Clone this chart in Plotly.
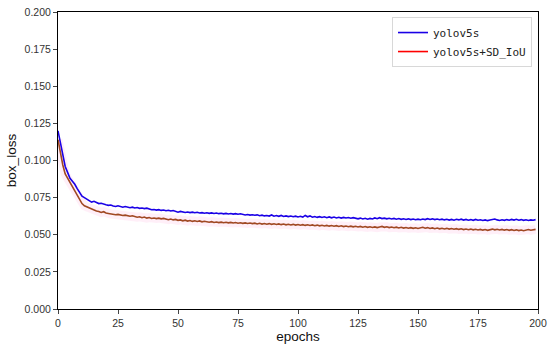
import plotly.graph_objects as go

epochs = list(range(200))

yolov5s = [
    0.120, 0.112, 0.102, 0.096, 0.092, 0.088, 0.086, 0.084, 0.081, 0.078,
    0.0760, 0.0750, 0.0740, 0.0730, 0.0720, 0.0725, 0.0715, 0.0710, 0.0712, 0.0705,
    0.0702, 0.0698, 0.0700, 0.0693, 0.0690, 0.0695, 0.0688, 0.0685, 0.0690, 0.0684,
    0.0682, 0.0686, 0.0680, 0.0683, 0.0678, 0.0680, 0.0676, 0.0679, 0.0672, 0.0668,
    0.0670, 0.0666, 0.0669, 0.0664, 0.0667, 0.0662, 0.0665, 0.0660, 0.0663, 0.0655,
    0.0652, 0.0657, 0.0654, 0.0650, 0.0653, 0.0649, 0.0652, 0.0648, 0.0651, 0.0647,
    0.0649, 0.0645, 0.0648, 0.0644, 0.0647, 0.0643, 0.0646, 0.0642, 0.0645, 0.0641,
    0.0644, 0.0640, 0.0643, 0.0639, 0.0642, 0.0638, 0.0641, 0.0637, 0.0633, 0.0636,
    0.0632, 0.0635, 0.0631, 0.0634, 0.0628, 0.0632, 0.0627, 0.0630, 0.0626, 0.0633,
    0.0625, 0.0629, 0.0624, 0.0630, 0.0623, 0.0627, 0.0622, 0.0626, 0.0621, 0.0625,
    0.0620, 0.0624, 0.0619, 0.0630, 0.0621, 0.0627, 0.0618, 0.0623, 0.0617, 0.0622,
    0.0616, 0.0621, 0.0615, 0.0620, 0.0614, 0.0619, 0.0613, 0.0618, 0.0612, 0.0617,
    0.0613, 0.0616, 0.0611, 0.0615, 0.0610, 0.0607, 0.0612, 0.0606, 0.0611, 0.0605,
    0.0610, 0.0606, 0.0613, 0.0608, 0.0615, 0.0609, 0.0612, 0.0607, 0.0611, 0.0606,
    0.0610, 0.0605, 0.0609, 0.0604, 0.0608, 0.0603, 0.0607, 0.0602, 0.0606, 0.0601,
    0.0605, 0.0601, 0.0606, 0.0602, 0.0608, 0.0603, 0.0607, 0.0602, 0.0606, 0.0601,
    0.0605, 0.0600, 0.0604, 0.0599, 0.0603, 0.0598, 0.0604, 0.0600, 0.0605, 0.0599,
    0.0603, 0.0598, 0.0602, 0.0597, 0.0603, 0.0598, 0.0601, 0.0596, 0.0600, 0.0595,
    0.0599, 0.0603, 0.0606, 0.0600, 0.0596, 0.0601, 0.0597, 0.0602, 0.0598, 0.0603,
    0.0599, 0.0604, 0.0598, 0.0602, 0.0597, 0.0601, 0.0596, 0.0600, 0.0598, 0.0602,
]

yolov5s_sd_iou = [
    0.114, 0.104, 0.097, 0.091, 0.088, 0.085, 0.082, 0.079, 0.076, 0.073,
    0.0710, 0.0695, 0.0688, 0.0680, 0.0672, 0.0668, 0.0660, 0.0657, 0.0650, 0.0655,
    0.0646, 0.0643, 0.0640, 0.0638, 0.0635, 0.0637, 0.0633, 0.0630, 0.0632, 0.0628,
    0.0625, 0.0628, 0.0622, 0.0618, 0.0621, 0.0615, 0.0619, 0.0612, 0.0616, 0.0610,
    0.0613, 0.0609, 0.0612, 0.0607, 0.0610, 0.0605, 0.0601, 0.0606, 0.0600, 0.0603,
    0.0597, 0.0600, 0.0594, 0.0598, 0.0592, 0.0596, 0.0590, 0.0594, 0.0589, 0.0593,
    0.0587, 0.0591, 0.0586, 0.0584, 0.0588, 0.0583, 0.0586, 0.0582, 0.0585, 0.0581,
    0.0584, 0.0580, 0.0583, 0.0579, 0.0582, 0.0578, 0.0581, 0.0577, 0.0580, 0.0576,
    0.0579, 0.0575, 0.0578, 0.0573, 0.0577, 0.0572, 0.0576, 0.0571, 0.0575, 0.0570,
    0.0574, 0.0569, 0.0573, 0.0568, 0.0572, 0.0567, 0.0571, 0.0566, 0.0570, 0.0565,
    0.0569, 0.0564, 0.0568, 0.0563, 0.0567, 0.0562, 0.0566, 0.0561, 0.0565, 0.0560,
    0.0564, 0.0559, 0.0563, 0.0558, 0.0562, 0.0557, 0.0561, 0.0556, 0.0560, 0.0555,
    0.0559, 0.0554, 0.0558, 0.0553, 0.0557, 0.0552, 0.0556, 0.0551, 0.0555, 0.0550,
    0.0554, 0.0549, 0.0553, 0.0548, 0.0552, 0.0556, 0.0550, 0.0554, 0.0548, 0.0552,
    0.0547, 0.0551, 0.0546, 0.0550, 0.0545, 0.0549, 0.0544, 0.0548, 0.0543, 0.0547,
    0.0542, 0.0546, 0.0550, 0.0544, 0.0548, 0.0542, 0.0546, 0.0541, 0.0545, 0.0540,
    0.0544, 0.0539, 0.0543, 0.0538, 0.0542, 0.0537, 0.0541, 0.0536, 0.0540, 0.0535,
    0.0539, 0.0534, 0.0538, 0.0533, 0.0537, 0.0532, 0.0536, 0.0531, 0.0535, 0.0530,
    0.0534, 0.0538, 0.0533, 0.0537, 0.0532, 0.0536, 0.0531, 0.0535, 0.0530, 0.0534,
    0.0529, 0.0533, 0.0528, 0.0532, 0.0527, 0.0531, 0.0535, 0.0530, 0.0534, 0.0536,
]

x_ticks = [0, 25, 50, 75, 100, 125, 150, 175, 200]
y_ticks = [0.000, 0.025, 0.050, 0.075, 0.100, 0.125, 0.150, 0.175, 0.200]

fig = go.Figure()

# faint pink halo beneath the SD_IoU curve
fig.add_trace(go.Scatter(x=epochs, y=yolov5s_sd_iou, mode="lines",
                         line=dict(color="rgba(255,120,200,0.12)", width=9),
                         showlegend=False, hoverinfo="skip"))
fig.add_trace(go.Scatter(x=epochs, y=yolov5s, mode="lines", name="yolov5s",
                         line=dict(color="#1a00e6", width=1.6)))
fig.add_trace(go.Scatter(x=epochs, y=yolov5s_sd_iou, mode="lines",
                         line=dict(color="#a04822", width=1.6),
                         showlegend=False))
# legend entry for the SD_IoU curve (drawn red in the legend)
fig.add_trace(go.Scatter(x=[None], y=[None], mode="lines", name="yolov5s+SD_IoU",
                         line=dict(color="#ff0000", width=1.6)))

fig.update_layout(
    width=550, height=346,
    margin=dict(l=58, r=12, t=12, b=37, autoexpand=False),
    plot_bgcolor="white", paper_bgcolor="white",
    font=dict(family="Liberation Sans, Arial, sans-serif", color="#222222"),
    legend=dict(x=0.9875, y=0.983, xanchor="right", yanchor="top",
                bgcolor="white", bordercolor="#d8d8d8", borderwidth=1,
                font=dict(family="DejaVu Sans Mono, monospace", size=11, color="#222"),
                itemwidth=30, tracegroupgap=2),
    showlegend=True,
)
fig.update_xaxes(range=[0, 200], tickvals=x_ticks, ticks="outside", ticklen=4,
                 showline=True, linecolor="black", linewidth=1, mirror=True,
                 showgrid=False, zeroline=False, automargin=False,
                 tickfont=dict(size=10.5, color="#333"),
                 title=dict(text="epochs", font=dict(size=13.5, color="#111"), standoff=2))
fig.update_yaxes(range=[0, 0.2], tickvals=y_ticks, tickformat=".3f", ticks="outside",
                 ticklen=4, showline=True, linecolor="black", linewidth=1, mirror=True,
                 showgrid=False, zeroline=False, automargin=False,
                 tickfont=dict(size=10.5, color="#333"),
                 title=dict(text="box_loss", font=dict(size=13.5, color="#111"), standoff=4))

fig.write_html("out.html", config={"displayModeBar": False},
               post_script="document.body.style.margin='0';document.body.style.padding='0';")
